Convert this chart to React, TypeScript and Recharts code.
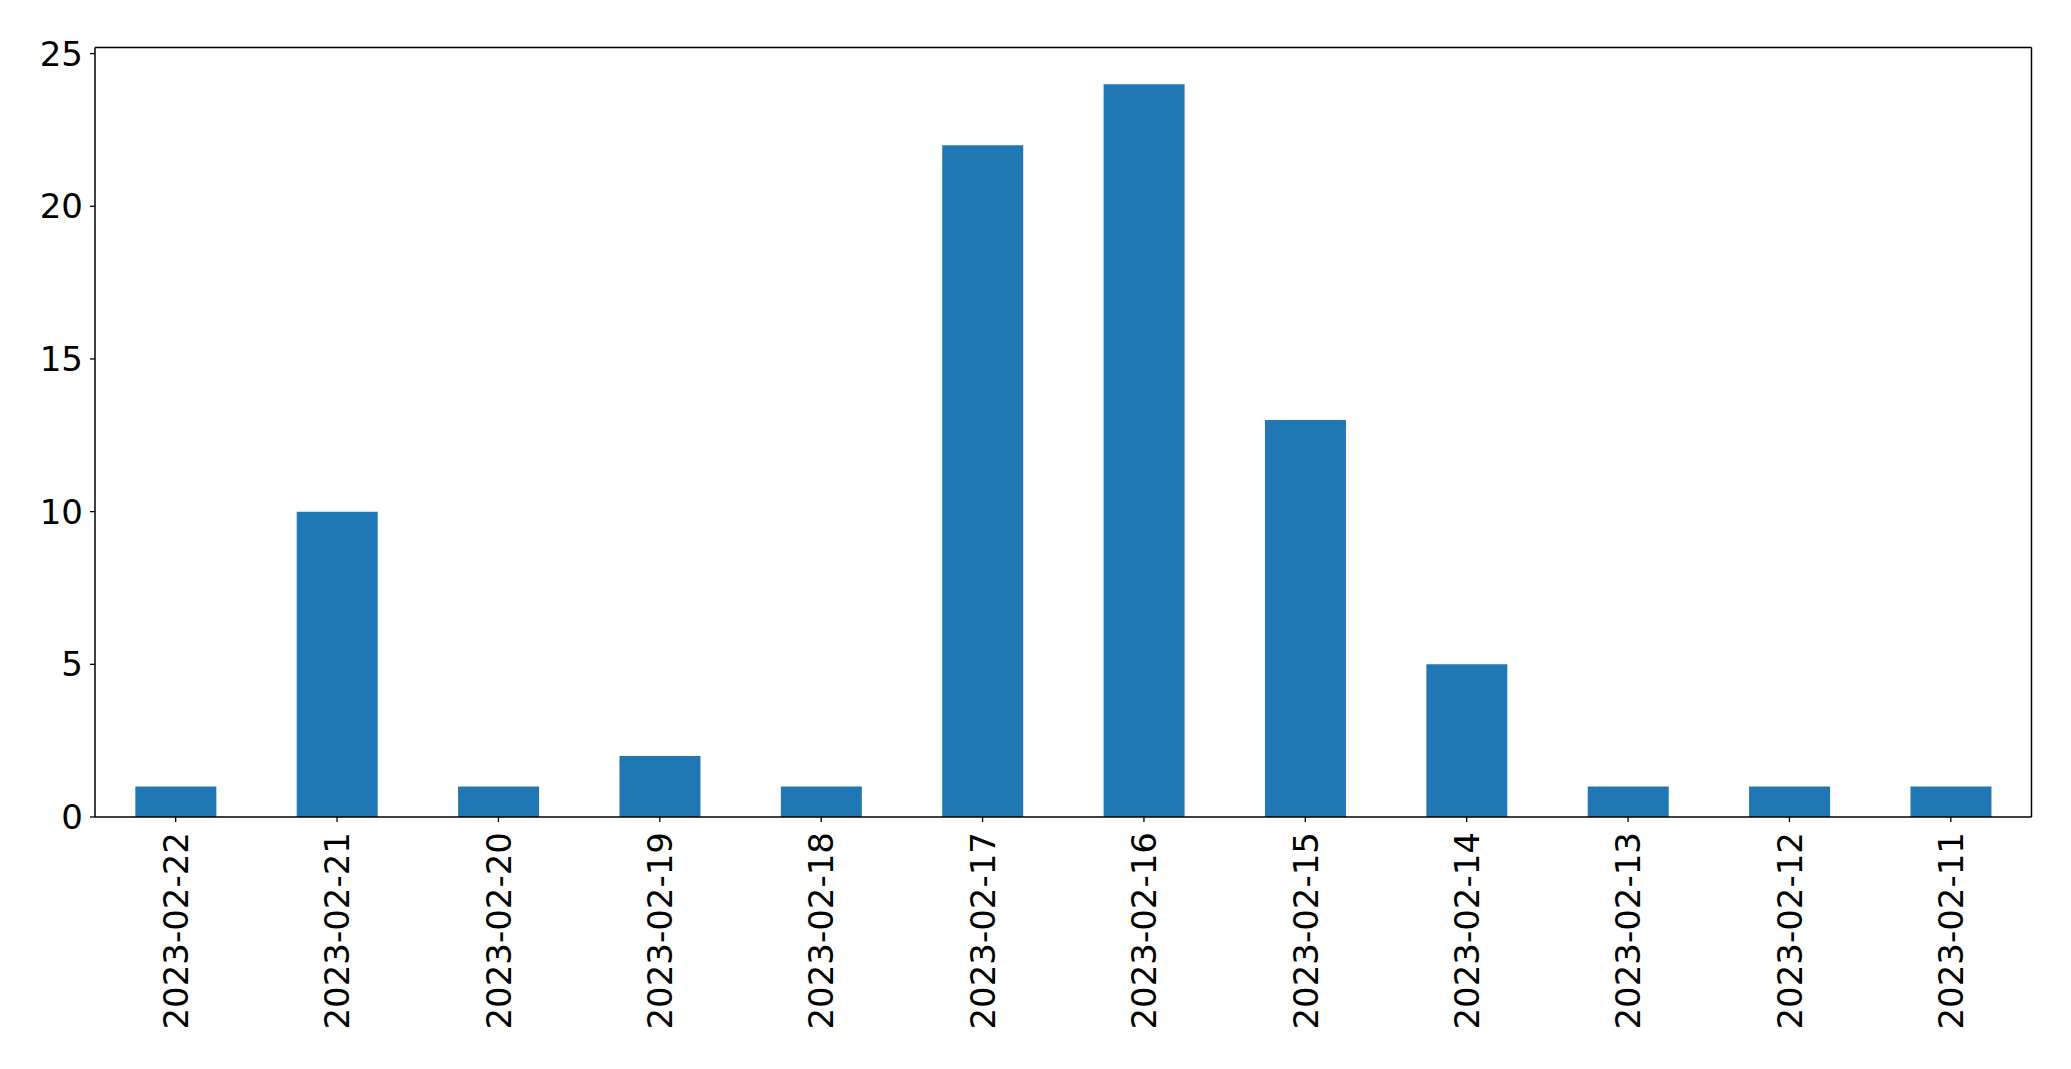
import React from "react";
import { BarChart, Bar, XAxis, YAxis } from "recharts";

const dates = [
  "2023-02-22",
  "2023-02-21",
  "2023-02-20",
  "2023-02-19",
  "2023-02-18",
  "2023-02-17",
  "2023-02-16",
  "2023-02-15",
  "2023-02-14",
  "2023-02-13",
  "2023-02-12",
  "2023-02-11",
];
const counts = [1, 10, 1, 2, 1, 22, 24, 13, 5, 1, 1, 1];
const yTicks = [0, 5, 10, 15, 20, 25];

const data = dates.map((date, i) => ({ date, count: counts[i] }));

const FONT = "'DejaVu Sans', sans-serif";

const DateTick = (props: any) => {
  const { x, y, payload } = props;
  return (
    <text
      x={x}
      y={y}
      transform={`rotate(-90, ${x}, ${y})`}
      textAnchor="end"
      dy="0.36em"
      fontSize={34}
      fontFamily={FONT}
      fill="#000"
    >
      {payload.value}
    </text>
  );
};

export default function App() {
  return (
    <div style={{ position: "absolute", left: 0, top: 0, background: "#fff" }}>
      <BarChart
        width={2071}
        height={1069}
        data={data}
        margin={{ top: 46.5, right: 38.5, left: 0, bottom: 0 }}
        barCategoryGap="25%"
      >
        <XAxis
          dataKey="date"
          height={252}
          interval={0}
          tickSize={5}
          tickMargin={10}
          tick={<DateTick />}
          axisLine={{ stroke: "#000", strokeWidth: 1.5 }}
          tickLine={{ stroke: "#000", strokeWidth: 1.3 }}
        />
        <XAxis
          xAxisId="top"
          dataKey="date"
          orientation="top"
          height={1}
          tick={false}
          tickLine={false}
          axisLine={{ stroke: "#000", strokeWidth: 1.5 }}
        />
        <YAxis
          width={95}
          domain={[0, 25.2]}
          ticks={yTicks}
          interval={0}
          allowDataOverflow
          tickSize={5}
          tickMargin={7}
          tick={{ fill: "#000", fontSize: 34, fontFamily: FONT }}
          axisLine={{ stroke: "#000", strokeWidth: 1.5 }}
          tickLine={{ stroke: "#000", strokeWidth: 1.3 }}
        />
        <YAxis
          yAxisId="right"
          orientation="right"
          width={1}
          domain={[0, 25.2]}
          tick={false}
          tickLine={false}
          axisLine={{ stroke: "#000", strokeWidth: 1.5 }}
        />
        <Bar dataKey="count" fill="#1f77b4" isAnimationActive={false} />
      </BarChart>
    </div>
  );
}
